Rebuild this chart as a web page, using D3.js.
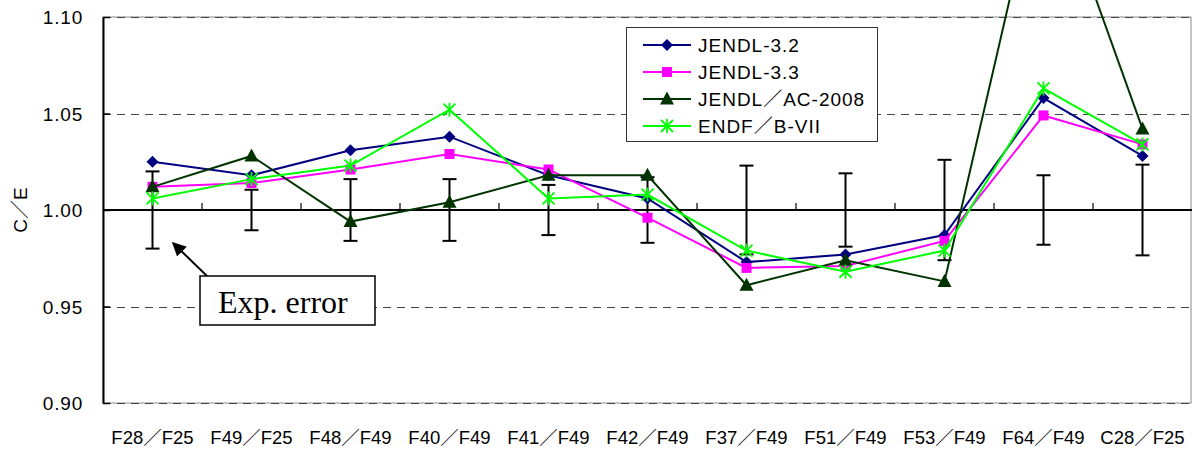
<!DOCTYPE html>
<html>
<head>
<meta charset="utf-8">
<script src="https://cdn.jsdelivr.net/npm/d3@7"></script>
<style>
  html, body { margin: 0; padding: 0; background: #fff; }
  svg { display: block; }
  text { font-family: "Liberation Sans", Arial, "Noto Sans CJK JP", sans-serif; fill: #000; }
</style>
</head>
<body>
<svg id="chart" width="1192" height="450"></svg>
<script>
// ---- data ----
const categories = ["F28／F25","F49／F25","F48／F49","F40／F49","F41／F49","F42／F49","F37／F49","F51／F49","F53／F49","F64／F49","C28／F25"];
const jendl32 = [1.025, 1.018, 1.031, 1.038, 1.018, 1.006, 0.973, 0.977, 0.987, 1.058, 1.028];
const jendl33 = [1.012, 1.014, 1.021, 1.029, 1.021, 0.996, 0.970, 0.971, 0.984, 1.049, 1.034];
const jendlAC = [1.012, 1.028, 0.994, 1.004, 1.018, 1.018, 0.961, 0.974, 0.963, 1.185, 1.042];
const endfb7  = [1.006, 1.016, 1.023, 1.052, 1.006, 1.008, 0.979, 0.968, 0.979, 1.063, 1.034];
const expError = [0.020, 0.0105, 0.016, 0.016, 0.013, 0.017, 0.023, 0.019, 0.026, 0.018, 0.0235];
const seriesNames = ["JENDL-3.2", "JENDL-3.3", "JENDL／AC-2008", "ENDF／B-VII"];
const yTicks = [0.90, 0.95, 1.00, 1.05, 1.10];
const yLabel = "C／E";
const annotation = "Exp. error";

const series = [
  {name: seriesNames[0], values: jendl32, color: "#000080", marker: "diamond"},
  {name: seriesNames[1], values: jendl33, color: "#ff00ff", marker: "square"},
  {name: seriesNames[2], values: jendlAC, color: "#003300", marker: "triangle"},
  {name: seriesNames[3], values: endfb7,  color: "#00ff00", marker: "star"}
];

// ---- layout ----
const svg = d3.select("#chart");
const L = 103, R = 1192, T = 17, B = 403;
const x = d3.scaleBand().domain(categories).range([L, R]).paddingInner(0).paddingOuter(0);
const y = d3.scaleLinear().domain([0.90, 1.10]).range([B, T]);
const cx = c => x(c) + x.bandwidth() / 2;

// plot border (thin gray)
svg.append("rect").attr("x", L).attr("y", T).attr("width", R - L - 1).attr("height", B - T)
  .attr("fill", "none").attr("stroke", "#888").attr("stroke-width", 1);

// dashed gridlines
svg.append("g").selectAll("line").data(yTicks.filter(v => Math.abs(v - 1) > 1e-9)).join("line")
  .attr("x1", L).attr("x2", R - 1)
  .attr("y1", d => Math.round(y(d)) + 0.5).attr("y2", d => Math.round(y(d)) + 0.5)
  .attr("stroke", "#444").attr("stroke-width", 1).attr("stroke-dasharray", "8,6");

// left axis
const yAxis = d3.axisLeft(y).tickValues(yTicks).tickFormat(d3.format(".2f")).tickSizeInner(-7).tickSizeOuter(0).tickPadding(20);
const gy = svg.append("g").attr("transform", `translate(${L},0)`).call(yAxis);
gy.select(".domain").attr("stroke", "#000").attr("stroke-width", 2);
gy.selectAll(".tick line").attr("stroke", "#000").attr("stroke-width", 1.5);
gy.selectAll(".tick text").attr("font-size", 19).attr("letter-spacing", "0.8px")
  .style("font-family", '"Liberation Sans", Arial, sans-serif').attr("dy", "0.35em");

// x axis at 1.00 with upward ticks at category boundaries
const boundaries = categories.slice(1).map(c => x(c));
svg.append("line").attr("x1", L).attr("x2", R).attr("y1", y(1.0)).attr("y2", y(1.0))
  .attr("stroke", "#000").attr("stroke-width", 2);
svg.append("g").selectAll("line").data(boundaries).join("line")
  .attr("x1", d => d).attr("x2", d => d).attr("y1", y(1.0)).attr("y2", y(1.0) - 7)
  .attr("stroke", "#000").attr("stroke-width", 1.2);

// category labels
svg.append("g").selectAll("text").data(categories).join("text")
  .attr("x", d => cx(d)).attr("y", 444).attr("text-anchor", "middle")
  .attr("font-size", 18.5).text(d => d);

// y label
svg.append("text").attr("transform", `translate(27,${y(1.0)}) rotate(-90)`)
  .attr("text-anchor", "middle").attr("font-size", 19).text(yLabel);

// error bars
const eb = svg.append("g").attr("stroke", "#000").attr("stroke-width", 2);
categories.forEach((c, i) => {
  const xc = cx(c), top = y(1 + expError[i]), bot = y(1 - expError[i]);
  eb.append("line").attr("x1", xc).attr("x2", xc).attr("y1", top).attr("y2", bot);
  eb.append("line").attr("x1", xc - 7).attr("x2", xc + 7).attr("y1", top).attr("y2", top);
  eb.append("line").attr("x1", xc - 7).attr("x2", xc + 7).attr("y1", bot).attr("y2", bot);
});

// marker drawing
function drawMarker(g, type, px, py, color) {
  if (type === "diamond") {
    g.append("path").attr("d", `M${px},${py-6}L${px+6},${py}L${px},${py+6}L${px-6},${py}Z`).attr("fill", color);
  } else if (type === "square") {
    g.append("rect").attr("x", px - 5).attr("y", py - 5).attr("width", 10).attr("height", 10).attr("fill", color);
  } else if (type === "triangle") {
    g.append("path").attr("d", `M${px},${py-7.5}L${px+7},${py+5.5}L${px-7},${py+5.5}Z`).attr("fill", color);
  } else if (type === "star") {
    const s = 6;
    g.append("path").attr("d", `M${px-s},${py-s}L${px+s},${py+s}M${px+s},${py-s}L${px-s},${py+s}M${px},${py-s-1}L${px},${py+s+1}`)
      .attr("stroke", color).attr("stroke-width", 1.8).attr("fill", "none");
  }
}

// series
const line = d3.line().x((d, i) => cx(categories[i])).y(d => y(d));
series.forEach(s => {
  const g = svg.append("g");
  g.append("path").attr("d", line(s.values)).attr("fill", "none").attr("stroke", s.color).attr("stroke-width", 2);
  s.values.forEach((v, i) => drawMarker(g, s.marker, cx(categories[i]), y(v), s.color));
});

// legend
const lg = svg.append("g");
lg.append("rect").attr("x", 626.5).attr("y", 27.5).attr("width", 251).attr("height", 114)
  .attr("fill", "#fff").attr("stroke", "#333").attr("stroke-width", 1);
series.forEach((s, i) => {
  const ly = 45 + i * 27;
  lg.append("line").attr("x1", 643).attr("x2", 691).attr("y1", ly).attr("y2", ly).attr("stroke", s.color).attr("stroke-width", 2);
  drawMarker(lg, s.marker, 667, ly, s.color);
  lg.append("text").attr("x", 698).attr("y", ly).attr("dy", "0.35em").attr("font-size", 19)
    .attr("letter-spacing", "1px").text(s.name);
});

// annotation with arrow
const defs = svg.append("defs");
defs.append("marker").attr("id", "arrow").attr("viewBox", "0 0 10 10").attr("refX", 9).attr("refY", 5)
  .attr("markerWidth", 7).attr("markerHeight", 7).attr("orient", "auto")
  .append("path").attr("d", "M0,0L10,5L0,10Z").attr("fill", "#000");
svg.append("line").attr("x1", 207).attr("y1", 276).attr("x2", 173).attr("y2", 243)
  .attr("stroke", "#000").attr("stroke-width", 2).attr("marker-end", "url(#arrow)");
svg.append("rect").attr("x", 200).attr("y", 276).attr("width", 175).attr("height", 49)
  .attr("fill", "#fff").attr("stroke", "#000").attr("stroke-width", 1.5);
svg.append("text").attr("x", 218).attr("y", 313).attr("font-size", 32)
  .style("font-family", '"Liberation Serif", "Times New Roman", serif').text(annotation);
</script>
</body>
</html>
